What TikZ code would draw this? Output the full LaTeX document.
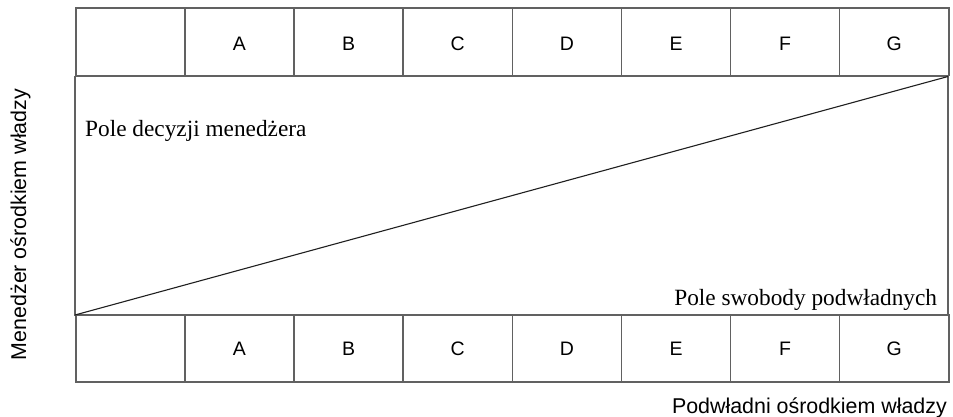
\documentclass[tikz,border=0pt]{standalone}
\usepackage{fontspec}
\setmainfont{Liberation Serif}
\setsansfont{Liberation Sans}
\begin{document}
\begin{tikzpicture}[x=1pt,y=1pt,
  gridline/.style={draw=black!62,line width=1.5pt},
  cell/.style={gridline,rectangle,minimum width=109.14pt,minimum height=67.8pt,
    inner sep=0pt,anchor=south west,font=\sffamily\fontsize{19.5}{20}\selectfont,
    text height=14pt,text depth=0pt},
  topcell/.style={cell,text height=17pt},
  fieldlabel/.style={inner sep=0pt,font=\rmfamily\fontsize{23.3}{24}\selectfont},
  axislabel/.style={inner sep=0pt,font=\sffamily\fontsize{21.4}{22}\selectfont}]
\useasboundingbox (0,0) rectangle (953,416);
% outer frame of the middle field
\draw[gridline] (75,101) rectangle (948,339.5);
% header row (top) and footer row (bottom)
\foreach \i/\l in {0/,1/A,2/B,3/C,4/D,5/E,6/F,7/G}{
  \node[topcell] (top\i) at ({75+109.14*\i},339.5) {\l};
  \node[cell] (bot\i) at ({75+109.14*\i},33.2) {\l};
}
% diagonal splitting the two fields
\coordinate (dlow) at (75,101);
\coordinate (dhigh) at (948,339.5);
\draw[line width=1.1pt,black!88] (dlow) -- (dhigh);
% field labels
\node[fieldlabel,anchor=base west] (mgr) at (85,280) {Pole decyzji menedżera};
\node[fieldlabel,anchor=base east] (sub) at (937.3,111) {Pole swobody podwładnych};
% axis labels
\node[axislabel,rotate=90,anchor=base] (left) at (26,191.5) {Menedżer ośrodkiem władzy};
\node[axislabel,anchor=base east] (right) at (947,2.8) {Podwładni ośrodkiem władzy};
\end{tikzpicture}
\end{document}
